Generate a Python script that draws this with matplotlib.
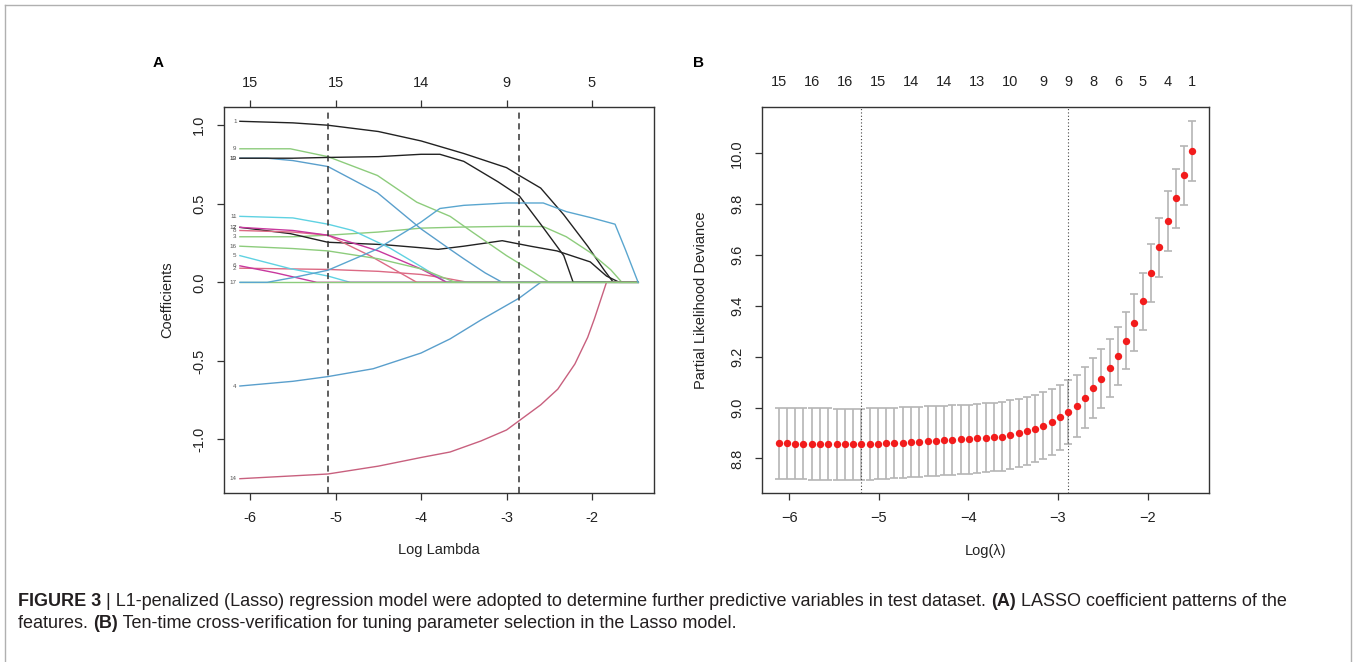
import matplotlib
matplotlib.use("Agg")
import matplotlib.pyplot as plt
from matplotlib.lines import Line2D
import numpy as np

plt.rcParams['font.family'] = ['Liberation Sans', 'DejaVu Sans']

# ---------------- panel A: lasso coefficient paths ----------------
# (log lambda, coefficient) knots, one list per variable
coef_1 = [(-6.12, 1.025), (-5.5, 1.015), (-5.09, 1.0), (-4.5, 0.96), (-4.0, 0.90), (-3.5, 0.82),
          (-3.0, 0.73), (-2.85, 0.68), (-2.6, 0.60), (-2.33, 0.43), (-2.05, 0.23), (-1.86, 0.08), (-1.75, 0.0)]
coef_2 = [(-6.12, 0.09), (-5.09, 0.082), (-4.5, 0.07), (-4.0, 0.05), (-3.7, 0.025), (-3.45, 0.0)]
coef_3 = [(-6.12, 0.29), (-5.5, 0.29), (-5.09, 0.30), (-4.5, 0.32), (-4.0, 0.345), (-3.5, 0.352),
          (-3.0, 0.356), (-2.57, 0.355), (-2.3, 0.29), (-2.02, 0.19), (-1.78, 0.08), (-1.65, 0.0)]
coef_4 = [(-6.12, -0.66), (-5.5, -0.63), (-5.09, -0.60), (-4.56, -0.55), (-4.0, -0.45), (-3.66, -0.36),
          (-3.3, -0.24), (-2.85, -0.10), (-2.6, 0.0)]
coef_5 = [(-6.12, 0.17), (-5.53, 0.087), (-5.09, 0.04), (-4.83, 0.0)]
coef_6 = [(-6.12, 0.105), (-5.7, 0.06), (-5.22, 0.0)]
coef_7 = [(-6.12, 0.35), (-5.53, 0.31), (-5.09, 0.255), (-4.44, 0.24), (-4.0, 0.22), (-3.8, 0.21),
          (-3.5, 0.23), (-3.05, 0.265), (-2.72, 0.23), (-2.41, 0.20), (-2.02, 0.13), (-1.83, 0.04), (-1.68, 0.0)]
coef_8 = [(-6.12, 0.33), (-5.5, 0.32), (-5.09, 0.30), (-4.6, 0.17), (-4.05, 0.0)]
coef_9 = [(-6.12, 0.85), (-5.53, 0.85), (-5.09, 0.80), (-4.51, 0.68), (-4.05, 0.51), (-3.66, 0.42),
          (-3.4, 0.32), (-3.0, 0.17), (-2.7, 0.07), (-2.5, 0.0)]
coef_10 = [(-6.12, 0.79), (-5.8, 0.79), (-5.5, 0.775), (-5.09, 0.737), (-4.51, 0.57), (-4.0, 0.34),
           (-3.66, 0.21), (-3.5, 0.15), (-3.25, 0.06), (-3.05, 0.0)]
coef_11 = [(-6.12, 0.42), (-5.5, 0.41), (-5.09, 0.37), (-4.8, 0.33), (-4.37, 0.22), (-4.0, 0.10), (-3.7, 0.0)]
coef_12 = [(-6.12, 0.35), (-5.5, 0.33), (-5.09, 0.30), (-4.5, 0.20), (-4.0, 0.085), (-3.7, 0.0)]
coef_13 = [(-6.12, 0.79), (-5.5, 0.79), (-5.09, 0.795), (-4.5, 0.80), (-4.0, 0.815), (-3.78, 0.815),
           (-3.5, 0.77), (-3.1, 0.64), (-2.85, 0.55), (-2.6, 0.37), (-2.33, 0.17), (-2.22, 0.0)]
coef_14 = [(-6.12, -1.25), (-5.09, -1.22), (-4.5, -1.17), (-4.0, -1.115), (-3.66, -1.08), (-3.3, -1.01),
           (-3.0, -0.94), (-2.85, -0.88), (-2.6, -0.78), (-2.4, -0.68), (-2.2, -0.52), (-2.05, -0.35),
           (-1.97, -0.23), (-1.83, 0.0)]
coef_15 = [(-6.12, 0.0)]
coef_16 = [(-6.12, 0.23), (-5.5, 0.215), (-5.09, 0.20), (-4.5, 0.15), (-3.98, 0.083), (-3.6, 0.0)]
coef_17 = [(-6.12, 0.0), (-5.8, 0.0), (-5.5, 0.03), (-5.09, 0.077), (-4.52, 0.21), (-4.01, 0.38),
           (-3.78, 0.47), (-3.5, 0.49), (-3.0, 0.505), (-2.57, 0.505), (-2.3, 0.45), (-2.0, 0.41),
           (-1.73, 0.37), (-1.61, 0.21), (-1.46, 0.0)]

paths = [coef_1, coef_2, coef_3, coef_4, coef_5, coef_6, coef_7, coef_8, coef_9,
         coef_10, coef_11, coef_12, coef_13, coef_14, coef_15, coef_16, coef_17]
path_colors = ['#222222', '#dc6a84', '#8dcc7c', '#5a9fcc', '#5fd2e2', '#c8389e',
               '#222222', '#dc6a84', '#8dcc7c', '#5a9fcc', '#5fd2e2', '#c8389e',
               '#222222', '#c8607e', '#8dcc7c', '#8dcc7c', '#5aa6cf']
path_labels = ['1', '2', '3', '4', '5', '6', '7', '8', '9', '10', '11', '12', '13', '14', '', '16', '17']
lambda_end = -1.46
lambda_min_a = -5.09
lambda_1se_a = -2.85
top_ticks_a = [-6, -5, -4, -3, -2]
top_labels_a = ['15', '15', '14', '9', '5']

# ---------------- panel B: cross-validation curve ----------------
log_lambda = [-6.120, -6.028, -5.935, -5.843, -5.750, -5.658, -5.566, -5.473, -5.381, -5.288,
              -5.196, -5.104, -5.011, -4.919, -4.826, -4.734, -4.642, -4.549, -4.457, -4.364,
              -4.272, -4.180, -4.087, -3.995, -3.902, -3.810, -3.718, -3.625, -3.533, -3.440,
              -3.348, -3.256, -3.163, -3.071, -2.978, -2.886, -2.794, -2.701, -2.609, -2.516,
              -2.424, -2.332, -2.239, -2.147, -2.054, -1.962, -1.870, -1.777, -1.685, -1.592,
              -1.500]
cv_mean = [8.859, 8.859, 8.858, 8.858, 8.857, 8.857, 8.857, 8.856, 8.855, 8.855,
           8.855, 8.857, 8.858, 8.859, 8.861, 8.862, 8.864, 8.866, 8.867, 8.868,
           8.871, 8.872, 8.875, 8.876, 8.879, 8.881, 8.884, 8.886, 8.893, 8.899,
           8.908, 8.917, 8.929, 8.944, 8.961, 8.982, 9.008, 9.039, 9.076, 9.114,
           9.156, 9.204, 9.263, 9.333, 9.418, 9.529, 9.631, 9.733, 9.823, 9.913,
           10.010]
cv_se = [0.140, 0.140, 0.140, 0.140, 0.140, 0.140, 0.140, 0.140, 0.140, 0.140,
         0.140, 0.140, 0.139, 0.139, 0.139, 0.139, 0.138, 0.138, 0.138, 0.138,
         0.137, 0.137, 0.137, 0.136, 0.136, 0.136, 0.135, 0.135, 0.135, 0.134,
         0.133, 0.132, 0.131, 0.130, 0.128, 0.125, 0.122, 0.120, 0.118, 0.116,
         0.115, 0.114, 0.113, 0.112, 0.112, 0.114, 0.116, 0.117, 0.117, 0.117,
         0.118]
nzero_idx = [0, 4, 8, 12, 16, 20, 24, 28, 32, 35, 38, 41, 44, 47, 50]
nzero_labels = ['15', '16', '16', '15', '14', '14', '13', '10', '9', '9', '8', '6', '5', '4', '1']
idx_min, idx_1se = 10, 35

caption_1 = [("FIGURE 3", True),
             (" | L1-penalized (Lasso) regression model were adopted to determine further predictive "
              "variables in test dataset. ", False),
             ("(A)", True), (" LASSO coefficient patterns of the", False)]
caption_2 = [("features. ", False), ("(B)", True),
             (" Ten-time cross-verification for tuning parameter selection in the Lasso model.", False)]

W, H = 1357, 662
fig = plt.figure(figsize=(W / 100, H / 100), dpi=100)
fig.patch.set_facecolor('white')


def box(l, r, t, b):
    return [l / W, 1 - b / H, (r - l) / W, (b - t) / H]


axA = fig.add_axes(box(224, 654, 107, 493))
axB = fig.add_axes(box(762, 1209, 107, 493))

spine_c = '#333333'
for ax in (axA, axB):
    for s in ax.spines.values():
        s.set_color(spine_c)
        s.set_linewidth(1.0)
    ax.tick_params(colors=spine_c, labelcolor='#222222', length=5, width=0.9,
                   labelsize=10.5, pad=8)

# --- panel A drawing
for p, c in zip(paths, path_colors):
    xs = [q[0] for q in p]
    ys = [q[1] for q in p]
    if xs[-1] < lambda_end:
        xs.append(lambda_end)
        ys.append(0.0)
    axA.plot(xs, ys, color=c, lw=1.0, solid_joinstyle='round')

for p, lab in zip(paths, path_labels):
    if lab:
        axA.text(-6.16, p[0][1], lab, ha='right', va='center', fontsize=4.5, color='#555555')

axA.axvline(lambda_min_a, color='#333333', lw=1.1, ls=(0, (4, 3)))
axA.axvline(lambda_1se_a, color='#333333', lw=1.1, ls=(0, (4, 3)))
axA.set_xlim(-6.306, -1.274)
axA.set_ylim(-1.341, 1.116)
axA.set_xticks([-6, -5, -4, -3, -2])
axA.set_xticklabels(['-6', '-5', '-4', '-3', '-2'])
axA.set_yticks([-1.0, -0.5, 0.0, 0.5, 1.0])
axA.set_yticklabels(['-1.0', '-0.5', '0.0', '0.5', '1.0'], rotation=90, va='center')
axA.set_xlabel('Log Lambda', fontsize=10.5, color='#222222')
axA.set_ylabel('Coefficients', fontsize=10.5, color='#222222')
axA.xaxis.set_label_coords(0.5, -50 / 386)
axA.yaxis.set_label_coords(-50 / 430, 0.5)

topA = axA.secondary_xaxis('top')
topA.set_xticks(top_ticks_a)
topA.set_xticklabels(top_labels_a)
topA.tick_params(colors=spine_c, labelcolor='#222222', length=5, width=0.9, labelsize=10.5, pad=7)
topA.spines['top'].set_visible(False)

# --- panel B drawing
axB.errorbar(log_lambda, cv_mean, yerr=cv_se, fmt='none', ecolor='#b5b5b5',
             elinewidth=1.2, capsize=3, capthick=1.2, zorder=2)
axB.plot(log_lambda, cv_mean, 'o', color='#f21c1c', ms=5.3, mec='none', zorder=3)
axB.axvline(log_lambda[idx_min], color='#444444', lw=0.8, ls=(0, (1, 2)))
axB.axvline(log_lambda[idx_1se], color='#444444', lw=0.8, ls=(0, (1, 2)))
axB.set_xlim(-6.305, -1.315)
axB.set_ylim(8.664, 10.182)
axB.set_xticks([-6, -5, -4, -3, -2])
axB.set_xticklabels(['\u22126', '\u22125', '\u22124', '\u22123', '\u22122'])
axB.set_yticks([8.8, 9.0, 9.2, 9.4, 9.6, 9.8, 10.0])
axB.set_yticklabels(['8.8', '9.0', '9.2', '9.4', '9.6', '9.8', '10.0'], rotation=90, va='center')
axB.set_xlabel('Log(\u03bb)', fontsize=10.5, color='#222222')
axB.set_ylabel('Partial Likelihood Deviance', fontsize=10.5, color='#222222')
axB.xaxis.set_label_coords(0.5, -51 / 386)
axB.yaxis.set_label_coords(-54 / 447, 0.5)

topB = axB.secondary_xaxis('top')
topB.set_xticks([log_lambda[i] for i in nzero_idx])
topB.set_xticklabels(nzero_labels)
topB.tick_params(length=0, labelsize=10.5, pad=13, labelcolor='#222222')
topB.spines['top'].set_visible(False)

# panel letters
fig.text(158 / W, 1 - 63 / H, 'A', fontsize=11, fontweight='bold', ha='center', va='center')
fig.text(698 / W, 1 - 63 / H, 'B', fontsize=11, fontweight='bold', ha='center', va='center')

# frame
frame_c = '#b0b0b0'
fig.add_artist(Line2D([5 / W, 5 / W], [0, 1 - 5 / H], color=frame_c, lw=1, transform=fig.transFigure))
fig.add_artist(Line2D([5 / W, 1351 / W], [1 - 5 / H, 1 - 5 / H], color=frame_c, lw=1, transform=fig.transFigure))
fig.add_artist(Line2D([1351 / W, 1351 / W], [0, 1 - 5 / H], color=frame_c, lw=1, transform=fig.transFigure))

# caption with bold runs; font size fitted so that line 1 spans the reference width
fig.canvas.draw()
renderer = fig.canvas.get_renderer()


def write_line(parts, x0, y, size):
    x = x0
    made = []
    for txt, bold in parts:
        t = fig.text(x / W, 1 - y / H, txt, fontsize=size, fontweight='bold' if bold else 'normal',
                     ha='left', va='center', color='#231f20')
        x += t.get_window_extent(renderer).width
        made.append(t)
    return x - x0, made


size = 11.3
width, tmp = write_line(caption_1, 18, 601, size)
for t in tmp:
    t.remove()
size = size * 1277 / width
write_line(caption_1, 18, 601, size)
write_line(caption_2, 18, 624, size)

fig.savefig('out.png', dpi=100, facecolor='white')
